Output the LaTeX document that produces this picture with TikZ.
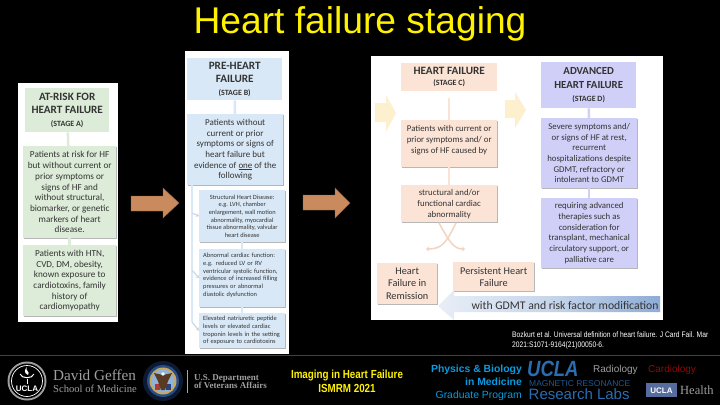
\documentclass[tikz,border=0pt]{standalone}
\usepackage{fontspec}
\setmainfont{Carlito}
\newfontfamily\arialf{Liberation Sans}
\newfontfamily\narrowf[FakeStretch=0.84]{Liberation Sans}
\newfontfamily\seriff{Liberation Serif}
\usetikzlibrary{shadows,arrows.meta}
\definecolor{greenbox}{HTML}{DDECD8}
\definecolor{bluebox}{HTML}{D9E8F6}
\definecolor{peachbox}{HTML}{FBE3D6}
\definecolor{violetbox}{HTML}{CFCFF7}
\definecolor{txt}{HTML}{333333}
\definecolor{brownarrow}{HTML}{C98B5E}
\definecolor{yellowarrow}{HTML}{FDF0CF}
\definecolor{steel}{HTML}{8EACD6}
\definecolor{sep}{HTML}{4A3A55}
\definecolor{cy}{HTML}{0A9BE0}
\definecolor{ub}{HTML}{2A6DB0}
\definecolor{sealA}{HTML}{0D1A33}
\definecolor{sealB}{HTML}{2A4C86}
\definecolor{sealC}{HTML}{C8A95A}
\definecolor{sealD}{HTML}{8FB4D8}
\definecolor{sealE}{HTML}{B03A3A}
\definecolor{sealF}{HTML}{2C3F7A}
\definecolor{sealG}{HTML}{5A3A22}
\definecolor{cardred}{HTML}{8B0A0A}
\definecolor{uhblue}{HTML}{566B9E}
\newcommand{\stg}[1]{{\fontsize{8}{9}\selectfont (STAGE~#1)}}
\tikzset{
  x=1pt,y=-1pt,
  box/.style={minimum width=#1,inner sep=0pt,align=center,anchor=north west,text=txt},
  hdr/.style={box=#1,font=\fontsize{11.2}{13.5}\selectfont\bfseries},
  shd/.style={drop shadow={shadow xshift=1pt,shadow yshift=-1pt,fill=gray!70,opacity=.8}},
  txtA/.style={font=\fontsize{9.2}{10.7}\selectfont},
  txtB/.style={font=\fontsize{6.4}{7.7}\selectfont},
  txtC/.style={font=\fontsize{8.8}{11}\selectfont},
  leftbox/.style={minimum width=86pt,inner xsep=4pt,inner ysep=0pt,text width=78pt,align=left,anchor=north west,text=txt},
  link/.style={line width=2.5pt,draw=#1},
  bigarrow/.style={fill=brownarrow,draw=brownarrow!70!black,line width=.4pt},
  foot/.style={inner sep=0pt,anchor=base,text=white},
  smallhead/.style={-{Stealth[length=3pt,width=4pt]},line width=1.2pt,draw=bluebox!85!gray},
}
\newcommand{\sh}[1]{\fontsize{#1}{#1}\selectfont}
\begin{document}
\begin{tikzpicture}
\useasboundingbox (0,0) rectangle (720,405);
\fill[black] (0,0) rectangle (720,405);
% title
\node[foot,text=yellow,font=\arialf\sh{37.2}] (title) at (360,33) {Heart failure staging};
% ---- panel A
\fill[white] (18,83) rectangle (118,322);
\node[hdr=84pt,minimum height=44pt,fill=greenbox] (ah) at (25,88) {AT-RISK FOR\\HEART FAILURE\\[-1pt]\stg{A}};
\node[box=93pt,minimum height=92pt,fill=greenbox,shd,txtA] (a1) at (23,146) {Patients at risk for HF\\but without current or\\prior symptoms or\\signs of HF and\\without structural,\\biomarker, or genetic\\markers of heart\\disease.};
\node[box=93pt,minimum height=71pt,fill=greenbox,shd,txtA] (a2) at (23,245) {Patients with HTN,\\CVD, DM, obesity,\\known exposure to\\cardiotoxins, family\\history of\\cardiomyopathy};
\draw[link=greenbox] (ah) -- (a1);
\draw[link=greenbox] (a1) -- (a2);
% arrow 1
\fill[bigarrow] (131,196) -- (163,196) -- (163,188) -- (179,203) -- (163,218) -- (163,211) -- (131,211) -- cycle;
% ---- panel B
\fill[white] (185,51) rectangle (289,354);
\node[hdr=95pt,minimum height=42pt,fill=bluebox] (bh) at (187,58) {PRE-HEART\\FAILURE\\[-1pt]\stg{B}};
\node[box=96pt,minimum height=71pt,fill=bluebox,shd,font=\fontsize{9}{10.7}\selectfont] (b1) at (187,114) {Patients without\\current or prior\\symptoms or signs of\\heart failure but\\evidence of \underline{one} of the\\following};
\node[box=86pt,minimum height=52pt,fill=bluebox,shd,txtB] (b2) at (199,190) {Structural Heart Disease:\\e.g. LVH, chamber\\enlargement, wall motion\\abnormality, myocardial\\tissue abnormality, valvular\\heart disease};
\node[leftbox,minimum height=58pt,fill=bluebox,shd,txtB] (b3) at (199,249) {Abnormal cardiac function:\\e.g. reduced LV or RV\\ventricular systolic function,\\evidence of increased filling\\pressures or abnormal\\diastolic dysfunction\\[-1pt]\mbox{}};
\node[leftbox,minimum height=35pt,fill=bluebox,shd,txtB] (b4) at (199,313) {Elevated natriuretic peptide\\levels or elevated cardiac\\troponin levels in the setting\\of exposure to cardiotoxins};
\draw[link=bluebox] (bh) -- (b1);
\draw[link=bluebox] ([xshift=4pt]b1.south) -- ([xshift=4pt,yshift=5pt]b1.south);
\draw[link=bluebox] (b2) -- (b3);
\draw[link=bluebox] (b3) -- (b4);
\coordinate (bl) at (192,185);
\draw[line width=1.5pt,bluebox] (bl) -- (192,322);
\draw[smallhead] (192,213) -- (b2.west);
\draw[smallhead] (192,270) -- (b3.west);
\draw[smallhead] (192,322) -- (b4.west);
% arrow 2
\fill[bigarrow] (303,195) -- (335,195) -- (335,188) -- (350,203) -- (335,218) -- (335,210) -- (303,210) -- cycle;
% ---- panel C/D
\fill[white] (371,56) rectangle (663,320);
\fill[yellowarrow] (375,103) -- (386,103) -- (386,95) -- (396,113) -- (386,132) -- (386,122) -- (375,122) -- cycle;
\fill[yellowarrow] (505,100) -- (515,100) -- (515,92) -- (526,110) -- (515,128) -- (515,118) -- (505,118) -- cycle;
\node[hdr=96pt,minimum height=28pt,fill=peachbox] (ch) at (401,63) {HEART FAILURE\\[-2pt]\stg{C}};
\node[box=96pt,minimum height=47pt,fill=peachbox,shd,txtC] (c1) at (401,120) {Patients with current or\\prior symptoms and/ or\\signs of HF caused by\\[-3pt]\mbox{}};
\node[box=96pt,minimum height=37pt,fill=peachbox,shd,txtC] (c2) at (401,185) {structural and/or\\functional cardiac\\abnormality};
\draw[link=peachbox] ([yshift=-7pt]ch.south) -- (c1.north);
\draw[link=peachbox] (c1) -- (c2);
\node[hdr=95pt,minimum height=46pt,fill=violetbox,font=\fontsize{10.8}{14}\selectfont\bfseries] (dh) at (541,62) {ADVANCED\\HEART FAILURE\\[-1pt]\stg{D}};
\node[box=96pt,minimum height=70pt,fill=violetbox,shd,font=\fontsize{8.8}{10.6}\selectfont] (d1) at (541,118) {Severe symptoms and/\\or signs of HF at rest,\\recurrent\\hospitalizations despite\\GDMT, refractory or\\intolerant to GDMT};
\node[box=96pt,minimum height=70pt,fill=violetbox,shd,font=\fontsize{8.8}{10.8}\selectfont] (d2) at (541,198) {requiring advanced\\therapies such as\\consideration for\\transplant, mechanical\\circulatory support, or\\palliative care};
\draw[link=violetbox] (dh) -- (d1);
\draw[link=violetbox] (d1) -- (d2);
\node[box=60pt,minimum height=41pt,fill=peachbox,shd,font=\fontsize{10.3}{12.4}\selectfont] (rem) at (377,263) {Heart\\Failure in\\Remission};
\node[box=81pt,minimum height=29pt,fill=peachbox,shd,font=\fontsize{10.3}{12}\selectfont] (per) at (453,262) {Persistent Heart\\Failure};
\coordinate (xl) at (439,223);
\coordinate (xr) at (456,223);
\coordinate (el) at (426,249);
\coordinate (er) at (465,249);
\draw[line width=1.5pt,peachbox!85!brown,-{Stealth[length=3pt,width=5pt]}] (xl) .. controls (450,243) and (454,249) .. (er);
\draw[line width=1.5pt,peachbox!85!brown,-{Stealth[length=3pt,width=5pt]}] (xr) .. controls (446,243) and (442,249) .. (el);
\shade[left color=steel!20!white,right color=steel,middle color=steel!50!white]
  (438,306) -- (454,290) -- (454,296) -- (660,296) -- (660,312) -- (454,312) -- (454,320) -- cycle;
\node[anchor=center,inner sep=0pt,text=txt,font=\sh{11.7}] (gdmt) at (565,305) {with GDMT and risk factor modification};
% citation
\node[anchor=base west,inner sep=0pt,text=white,align=left,font=\narrowf\sh{8}] (cit) at (512,337) {Bozkurt et al. Universal definition of heart failure. J Card Fail. Mar};
\node[anchor=base west,inner sep=0pt,text=white,align=left,font=\narrowf\sh{8}] (cit2) at (512,347) {2021:S1071-9164(21)00050-6.};
% footer
\draw[sep,line width=1.6pt] (0,355.5) -- (720,355.5);
% UCLA seal
\fill[gray!75] (27,381) circle (19.5);
\fill[black] (27,381) circle (17.5);
\draw[white,line width=.7pt] (27,381) circle (15.5);
\draw[white,line width=1pt] (20,374) .. controls (22,379) and (32,379) .. (34,374);
\draw[white,line width=1pt] (27,379) -- (27,384);
\fill[white] (27,367) .. controls (24,370) and (31,372) .. (28,375) .. controls (24,373) and (24,370) .. (27,367);
\node[foot,font=\arialf\bfseries\sh{8}] (uclaseal) at (27,391) {UCLA};
\node[foot,anchor=base west,text=gray!75,font=\seriff\sh{15.2}] (geffen) at (53,380) {David Geffen};
\node[foot,anchor=base west,text=gray!75,font=\seriff\sh{10.6}] (som) at (53,392) {School of Medicine};
% VA seal
\fill[sealA] (163,381) circle (20);
\fill[sealB] (163,381) circle (16);
\fill[sealC] (163,381) circle (13.5);
\fill[sealD] (163,381) circle (11.5);
\fill[sealE] (155,384) rectangle (160,390);
\fill[sealF] (166,384) rectangle (171,390);
\fill[sealG] (163,375) -- (172,373) -- (168,381) -- (165,390) -- (161,390) -- (158,381) -- (154,373) -- cycle;
\fill[white] (163,374) circle (1.8);
\draw[gray!70,line width=.5pt] (187,370) -- (187,393);
\node[foot,anchor=base west,text=gray!75,font=\seriff\bfseries\sh{9}] (va1) at (194,380) {U.S. Department};
\node[foot,anchor=base west,text=gray!75,font=\seriff\bfseries\sh{9}] (va2) at (194,388.5) {of Veterans Affairs};
% event
\node[foot,text=yellow,font=\narrowf\bfseries\sh{11.7}] (ev1) at (347,378) {Imaging in Heart Failure};
\node[foot,text=yellow,font=\narrowf\bfseries\sh{11.7}] (ev2) at (347,392) {ISMRM 2021};
% program
\node[foot,anchor=base east,text=cy,font=\arialf\bfseries\sh{10.4}] (p1) at (522,372) {Physics \& Biology};
\node[foot,anchor=base east,text=cy,font=\arialf\bfseries\sh{10.4}] (p2) at (522,385) {in Medicine};
\node[foot,anchor=base east,text=cy,font=\arialf\sh{10.4}] (p3) at (522,398) {Graduate Program};
\node[foot,anchor=base west,text=ub,font=\narrowf\bfseries\itshape\sh{22}] (ucla) at (527,376) {UCLA};
\node[foot,anchor=base west,text=ub!80!black,font=\arialf\sh{8.5}] (mr) at (529,386) {MAGNETIC RESONANCE};
\node[foot,anchor=base west,text=ub,font=\arialf\sh{15}] (rl) at (528.5,399) {Research Labs};
\node[foot,anchor=base west,text=gray!75,font=\arialf\sh{10}] (rad) at (593,372) {Radiology};
\node[foot,anchor=base west,text=cardred,font=\arialf\sh{10}] (car) at (648,372) {Cardiology};
\fill[uhblue] (646,383) rectangle (677,397);
\node[foot,font=\arialf\bfseries\sh{8}] (uh) at (661.5,393) {UCLA};
\node[foot,anchor=base west,text=gray!75,font=\seriff\sh{12.5}] (health) at (680,394) {Health};
\end{tikzpicture}
\end{document}
